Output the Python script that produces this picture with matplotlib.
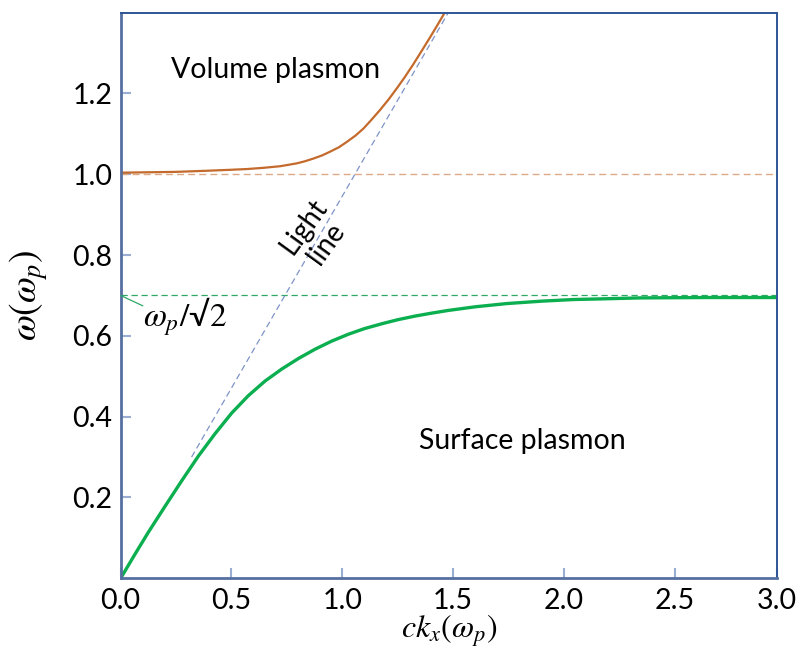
#!/usr/bin/env python3

import numpy as np
import matplotlib.pyplot as plt

plt.rcParams['font.family'] = ['Lato', 'DejaVu Sans']
plt.rcParams['mathtext.fontset'] = 'stix'

# volume plasmon branch
kVol = [ 0.0, 0.25, 0.40, 0.49, 0.57, 0.644, 0.72, 0.794, 0.83, 0.87, 0.91,
         0.945, 0.985, 1.02, 1.06, 1.095, 1.13, 1.17, 1.21, 1.245, 1.28, 1.32,
         1.36, 1.396, 1.43, 1.463 ]
wVol = [ 1.004, 1.006, 1.009, 1.011, 1.013, 1.016, 1.020, 1.027, 1.032, 1.039, 1.047,
         1.056, 1.067, 1.080, 1.096, 1.113, 1.134, 1.159, 1.186, 1.212, 1.239, 1.272,
         1.307, 1.339, 1.370, 1.401 ]

# surface plasmon branch
kSrf = [ 0.0, 0.065, 0.125, 0.200, 0.275, 0.350, 0.426, 0.501, 0.576, 0.651,
         0.727, 0.802, 0.877, 0.952, 1.027, 1.10, 1.178, 1.25, 1.328, 1.40,
         1.478, 1.60, 1.742, 1.90, 2.042, 2.20, 2.343, 2.65, 2.96 ]
wSrf = [ 0.0, 0.060, 0.114, 0.178, 0.241, 0.302, 0.358, 0.409, 0.452, 0.488,
         0.518, 0.544, 0.567, 0.587, 0.604, 0.618, 0.630, 0.640, 0.649, 0.656,
         0.663, 0.672, 0.680, 0.686, 0.690, 0.692, 0.694, 0.695, 0.695 ]

# light line end points
kLight = [ 0.32, 1.478 ]
wLight = [ 0.30, 1.400 ]

wVolAsym = 1.0
wSrfAsym = 0.70

xticks  = [ 0.0, 0.5, 1.0, 1.5, 2.0, 2.5, 2.96 ]
xlabels = [ '0.0', '0.5', '1.0', '1.5', '2.0', '2.5', '3.0' ]
yticks  = [ 0.2, 0.4, 0.6, 0.8, 1.0, 1.2 ]

fig = plt.figure( figsize = ( 7.97, 6.48 ), dpi = 100 )
ax  = fig.add_axes( [ 0.1514, 0.1076, 0.8231, 0.8728 ] )

ax.axhline( wVolAsym, c = '#DCAA86', ls = ( 0, ( 5, 3 ) ), lw = 1.0 )
ax.axhline( wSrfAsym, c = '#2FA866', ls = ( 0, ( 5, 3 ) ), lw = 0.9 )
ax.plot( kLight, wLight, c = '#7F93C8', ls = ( 0, ( 5, 3 ) ), lw = 0.9 )
ax.plot( kVol, wVol, c = '#C46A2C', lw = 1.6 )
ax.plot( kSrf, wSrf, c = '#0BAF4F', lw = 2.4 )

ax.set_xlim( 0.0, 2.96 )
ax.set_ylim( 0.0, 1.4 )
ax.set_xticks( xticks, xlabels )
ax.set_yticks( yticks, [ '{:.1f}'.format( v ) for v in yticks ] )
ax.tick_params( direction = 'in', length = 7, width = 1.5, color = '#9AAED3',
                labelsize = 20.5 )
ax.tick_params( axis = 'x', pad = 7 )
ax.tick_params( axis = 'y', pad = 6 )

for side in [ 'left', 'bottom' ]:
    ax.spines[side].set_color( '#5570A0' )
    ax.spines[side].set_linewidth( 2.0 )
for side in [ 'top', 'right' ]:
    ax.spines[side].set_color( '#2F5597' )
    ax.spines[side].set_linewidth( 1.4 )

ax.set_xlabel( r'$ck_x(\omega_p)$', fontsize = 23, labelpad = -1 )
ax.set_ylabel( r'$\omega(\omega_p)$', fontsize = 27, labelpad = 16 )

ax.text( 0.697, 1.257, 'Volume plasmon', fontsize = 20.5, ha = 'center', va = 'center' )
ax.text( 1.811, 0.341, 'Surface plasmon', fontsize = 20.5, ha = 'center', va = 'center' )
ax.text( 0.877, 0.850, 'Light\nline', fontsize = 20, ha = 'center', va = 'center',
         rotation = 54, linespacing = 1.1, rotation_mode = 'anchor' )

ax.annotate( r'$\omega_p/$√$2$', xy = ( 0.0, wSrfAsym ), xytext = ( 0.10, 0.648 ),
             fontsize = 24, va = 'center', ha = 'left',
             arrowprops = dict( arrowstyle = '-', color = '#2FA866', lw = 0.9,
                                shrinkA = 0, shrinkB = 0, patchA = None,
                                relpos = ( 0.0, 0.75 ) ) )

fig.savefig( 'out.png', dpi = 100 )
